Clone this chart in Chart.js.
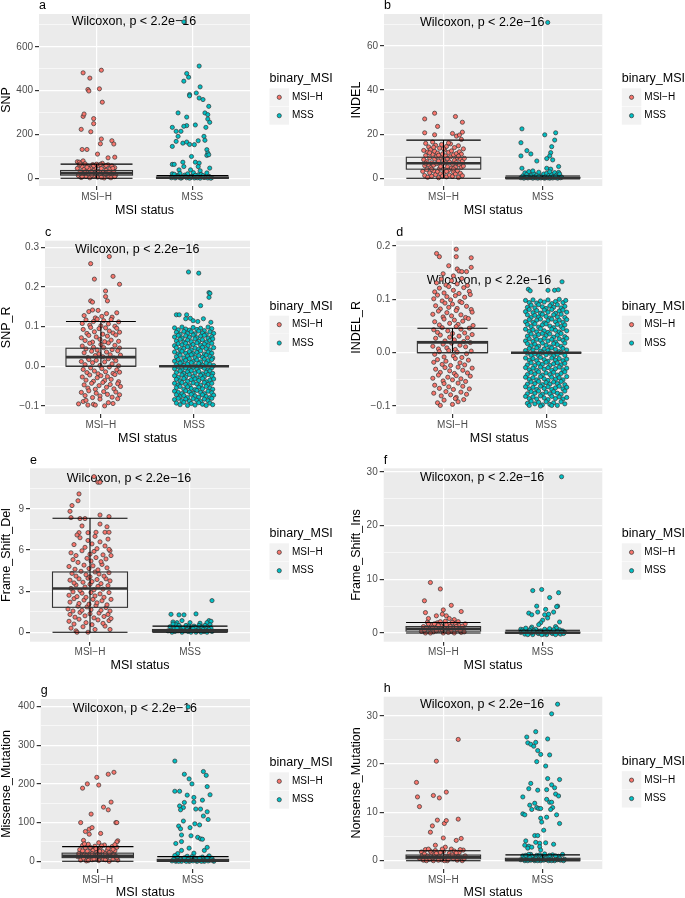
<!DOCTYPE html>
<html>
<head>
<meta charset="utf-8">
<title>MSI status comparison</title>
<script src="https://cdn.jsdelivr.net/npm/chart.js@4.4.1/dist/chart.umd.min.js"></script>
<style>
  body { margin: 0; background: #fff; width: 685px; height: 898px; overflow: hidden; position: relative; }
  canvas { position: absolute; }
</style>
</head>
<body>
<script>
Chart.defaults.font.family = '"Liberation Sans", Arial, sans-serif';
Chart.defaults.animation = false;

const categories = ['MSI−H', 'MSS'];
const legendTitle = 'binary_MSI';
const xTitle = 'MSI status';
const testLabel = 'Wilcoxon, p < 2.2e−16';
const fills = ['#F8766D', '#00BFC4'];

// samples as [x with jitter, value]
const snpMSIH = [[0.86,481],[1.05,493],[0.93,457],[0.91,405],[0.92,398],[1.03,408],[1.06,347],[0.86,282],[0.87,293],[0.97,272],[0.97,249],[0.84,223],[0.94,212],[1.05,179],[1.04,157],[1.16,171],[1.18,156],[0.85,131],[0.90,131],[1.01,110],[1.12,93],[1.19,96],[0.80,75],[0.82,73],[0.86,79],
  [0.80,45],[0.81,12],[0.82,60],[0.83,30],[0.84,3],[0.85,52],[0.86,20],[0.87,40],[0.88,66],[0.89,8],[0.90,35],[0.91,55],[0.92,18],[0.93,2],[0.94,47],[0.95,27],[0.96,62],[0.97,10],[0.98,38],[0.99,50],[1.00,22],[1.01,5],[1.02,58],[1.03,32],[1.04,14],[1.05,44],[1.06,68],[1.07,26],[1.08,1],[1.09,53],[1.10,36],[1.11,16],[1.12,61],[1.13,6],[1.14,42],[1.15,24],[1.16,56],[1.17,9],[1.18,33],[1.19,48],[1.20,15],[0.83,65],[0.88,25],[0.92,43],[0.97,57],[1.01,30],[1.04,63],[1.09,20],[1.13,28],[1.17,45],[0.85,7],[0.95,14],[1.05,4],[1.15,2],[0.90,50],[1.00,64],[1.10,58],[1.19,7]];
const snpMSS = [[1.91,714],[2.07,512],[1.94,478],[1.96,461],[1.91,443],[2.08,417],[1.97,382],[1.97,376],[2.04,389],[2.07,366],[2.11,359],[2.17,328],[1.85,298],[2.13,298],[2.16,290],[2.16,270],[2.18,255],[2.14,232],[1.94,279],[2.03,243],[1.94,240],[1.91,237],[1.79,232],[1.83,214],[1.88,214],[1.85,191],[2.12,191],[2.13,173],[1.83,168],[1.79,145],[1.90,160],[1.94,165],[1.97,154],[2.02,153],[2.06,171],[2.15,130],[2.16,115],[2.15,104],[2.17,107],[1.99,99],[1.79,63],[1.81,63],[1.90,73],[1.91,53],[2.03,73],[2.07,69],[2.06,53],[1.86,38],[1.98,38],[2.08,34],[2.18,46],[1.79,20],
  [1.78,2],[1.80,8],[1.82,1],[1.84,12],[1.86,4],[1.88,0],[1.90,6],[1.92,14],[1.94,2],[1.96,9],[1.98,3],[2.00,11],[2.02,1],[2.04,5],[2.06,15],[2.08,0],[2.10,7],[2.12,3],[2.14,10],[2.16,1],[2.18,6],[2.20,2],[1.81,18],[1.87,22],[1.95,20],[2.01,25],[2.09,17],[2.15,24],[1.83,5],[1.93,8],[2.03,13],[2.13,4],[1.85,9],[1.89,3],[1.97,0],[2.05,2],[2.11,12],[2.17,8],[2.19,0],[1.99,6]];

const indelMSIH = [[0.81,26.9],[0.91,29.5],[0.94,23.5],[1.12,28],[1.19,25.4],[1.19,20.9],[0.81,20.6],[0.91,19.7],[1.09,20.3],[1.13,19.1],[1.16,19.6],[1.18,17.6],
  [0.79,3.1],[0.80,8.4],[0.80,12.6],[0.81,1.2],[0.81,5.7],[0.82,10.3],[0.82,15.8],[0.83,3.9],[0.83,7.5],[0.84,0.4],[0.84,11.9],[0.85,6.1],[0.85,14.2],[0.86,2.4],[0.86,9.2],[0.87,4.8],[0.87,13.0],[0.88,0.9],[0.88,7.0],[0.89,10.8],[0.89,16.4],[0.90,3.3],[0.90,5.9],[0.91,8.7],[0.91,12.2],[0.92,1.6],[0.92,14.9],[0.93,6.6],[0.93,9.9],[0.94,3.0],[0.94,11.4],[0.95,0.2],[0.95,7.8],[0.96,4.4],[0.96,13.6],[0.97,2.0],[0.97,9.5],[0.98,6.2],[0.98,15.3],[0.99,1.0],[0.99,11.0],[1.00,4.0],[1.00,8.0],[1.01,12.8],[1.01,2.7],[1.02,6.9],[1.02,10.1],[1.03,0.6],[1.03,14.4],[1.04,5.2],[1.04,8.9],[1.05,3.6],[1.05,11.7],[1.06,1.4],[1.06,7.3],[1.07,9.7],[1.07,15.6],[1.08,4.6],[1.08,12.4],[1.09,0.8],[1.09,6.4],[1.10,2.9],[1.10,10.6],[1.11,8.1],[1.11,13.9],[1.12,5.0],[1.12,1.9],[1.13,11.2],[1.13,7.1],[1.14,3.4],[1.14,9.3],[1.15,14.7],[1.15,0.3],[1.16,6.0],[1.16,12.0],[1.17,2.2],[1.17,8.6],[1.18,4.9],[1.18,10.9],[1.19,1.1],[1.19,7.7],[1.20,13.3],[1.20,5.5],[1.21,9.0],[0.82,6.8],[0.86,11.5],[0.90,14.0],[0.95,10.4],[1.00,13.4],[1.05,16.0],[1.10,4.2],[1.15,10.0],[0.88,4.1],[0.97,5.3],[1.03,3.1]];
const indelMSS = [[2.05,70.7],[1.79,22.4],[1.78,16.1],[1.84,12.5],[1.88,11.0],[1.78,10.1],[2.13,20.6],[2.02,19.7],[2.12,17.3],[2.09,14.3],[2.08,11.6],[2.07,10.1],[2.10,8.3],[2.04,8.9],[1.94,7.8],[2.16,5.3],[1.79,4.5],[2.04,4.5],[2.08,4.1],[2.16,2.6],
  [1.78,0.2],[1.80,1.1],[1.81,0.0],[1.82,2.4],[1.83,0.6],[1.84,1.8],[1.85,0.1],[1.86,3.0],[1.87,0.9],[1.88,0.3],[1.89,1.5],[1.90,0.0],[1.91,2.1],[1.92,0.7],[1.93,0.2],[1.94,1.3],[1.95,0.0],[1.96,2.7],[1.97,0.5],[1.98,0.1],[1.99,1.0],[2.00,0.3],[2.01,1.9],[2.02,0.0],[2.03,0.8],[2.04,2.2],[2.05,0.2],[2.06,1.2],[2.07,0.0],[2.08,0.6],[2.09,1.7],[2.10,0.1],[2.11,0.9],[2.12,2.5],[2.13,0.3],[2.14,1.4],[2.15,0.0],[2.16,0.7],[2.17,1.9],[2.18,0.2],[2.19,0.5],[1.84,0.4],[1.90,3.3],[1.96,0.8],[2.01,0.2],[2.07,2.9],[2.13,0.9]];

const snpRMSIH = [[1.09,0.277],[0.89,0.259],[1.13,0.227],[0.93,0.220],[1.20,0.207],[1.05,0.190],[1.05,0.176],[1.07,0.165],[0.89,0.165],[0.91,0.162],
  [0.82,0.128],[0.87,0.138],[0.91,0.142],[0.97,0.141],[1.01,0.126],[1.06,0.133],[1.12,0.124],[1.17,0.135],[0.94,0.122],
  [0.80,0.108],[0.84,0.117],[0.88,0.104],[0.92,0.113],[0.96,0.119],[1.00,0.102],[1.03,0.115],[1.08,0.107],[1.11,0.118],[1.15,0.101],[1.19,0.112],
  [0.81,0.093],[0.85,0.083],[0.89,0.098],[0.93,0.087],[0.98,0.095],[1.02,0.081],[1.05,0.097],[1.09,0.089],[1.13,0.084],[1.17,0.096],[1.20,0.086],
  [0.79,0.072],[0.83,0.065],[0.87,0.078],[0.91,0.061],[0.95,0.074],[0.99,0.068],[1.04,0.062],[1.07,0.076],[1.11,0.066],[1.16,0.079],[1.19,0.063],
  [0.80,0.051],[0.84,0.044],[0.88,0.058],[0.92,0.048],[0.96,0.041],[1.00,0.055],[1.03,0.047],[1.08,0.059],[1.12,0.042],[1.15,0.053],[1.20,0.046],
  [0.82,0.034],[0.86,0.022],[0.90,0.038],[0.94,0.027],[0.98,0.031],[1.02,0.024],[1.06,0.036],[1.10,0.029],[1.14,0.021],[1.18,0.039],[1.21,0.028],
  [0.79,0.012],[0.83,0.004],[0.87,0.017],[0.91,0.009],[0.95,0.015],[0.99,0.002],[1.04,0.011],[1.08,0.019],[1.12,0.006],[1.16,0.014],[1.19,0.001],
  [0.81,-0.008],[0.85,-0.016],[0.89,-0.004],[0.93,-0.012],[0.97,-0.019],[1.01,-0.006],[1.05,-0.014],[1.09,-0.002],[1.13,-0.018],[1.17,-0.009],[1.20,-0.015],
  [0.80,-0.027],[0.84,-0.035],[0.88,-0.022],[0.92,-0.038],[0.96,-0.029],[1.00,-0.024],[1.04,-0.036],[1.07,-0.026],[1.11,-0.033],[1.15,-0.021],[1.19,-0.039],
  [0.82,-0.047],[0.86,-0.055],[0.90,-0.043],[0.94,-0.058],[0.98,-0.049],[1.02,-0.041],[1.06,-0.053],[1.10,-0.046],[1.14,-0.057],[1.18,-0.044],[1.21,-0.051],
  [0.79,-0.066],[0.83,-0.074],[0.87,-0.062],[0.91,-0.079],[0.95,-0.068],[0.99,-0.075],[1.03,-0.064],[1.07,-0.071],[1.12,-0.078],[1.16,-0.065],[1.20,-0.072],
  [0.76,-0.095],[0.81,-0.089],[0.86,-0.098],[0.92,-0.096],[0.94,-0.098],[0.99,-0.083],[1.04,-0.100],[1.08,-0.092],[1.13,-0.094],[1.18,-0.082],[0.84,-0.086]];
const snpRMSS = [[1.94,0.238],[2.05,0.235],[2.16,0.186],[2.17,0.184],[2.16,0.174],[2.07,0.153],[1.81,0.130],[1.84,0.130],[1.92,0.130],[1.96,0.121],[1.91,0.120],[2.10,0.120],[2.18,0.111],[2.04,0.113],[1.99,0.115],
  [1.79,0.097],[1.83,0.092],[1.87,0.099],[1.91,0.094],[1.95,0.091],[1.99,0.098],[2.03,0.093],[2.07,0.096],[2.11,0.090],[2.15,0.099],[2.19,0.095],
  [1.81,0.086],[1.85,0.081],[1.89,0.088],[1.93,0.083],[1.97,0.087],[2.01,0.082],[2.05,0.089],[2.09,0.084],[2.13,0.080],[2.17,0.087],[2.21,0.083],
  [1.79,0.074],[1.83,0.078],[1.87,0.071],[1.91,0.077],[1.95,0.073],[1.99,0.079],[2.03,0.072],[2.07,0.076],[2.11,0.078],[2.15,0.071],[2.19,0.075],
  [1.81,0.064],[1.85,0.068],[1.89,0.061],[1.93,0.066],[1.97,0.062],[2.01,0.069],[2.05,0.063],[2.09,0.067],[2.13,0.061],[2.17,0.065],[2.20,0.069],
  [1.79,0.052],[1.83,0.057],[1.87,0.054],[1.91,0.058],[1.95,0.051],[1.99,0.055],[2.03,0.059],[2.07,0.053],[2.11,0.056],[2.15,0.052],[2.19,0.058],
  [1.81,0.047],[1.85,0.042],[1.89,0.045],[1.93,0.049],[1.97,0.041],[2.01,0.046],[2.05,0.043],[2.09,0.048],[2.13,0.044],[2.17,0.041],[2.21,0.047],
  [1.79,0.036],[1.83,0.031],[1.87,0.038],[1.91,0.033],[1.95,0.037],[1.99,0.032],[2.03,0.035],[2.07,0.039],[2.11,0.031],[2.15,0.036],[2.19,0.033],
  [1.81,0.024],[1.85,0.028],[1.89,0.021],[1.93,0.026],[1.97,0.029],[2.01,0.022],[2.05,0.027],[2.09,0.023],[2.13,0.028],[2.17,0.025],[2.20,0.021],
  [1.79,0.013],[1.83,0.017],[1.87,0.011],[1.91,0.015],[1.95,0.019],[1.99,0.012],[2.03,0.016],[2.07,0.011],[2.11,0.018],[2.15,0.014],[2.19,0.017],
  [1.81,0.004],[1.85,0.008],[1.89,0.002],[1.93,0.006],[1.97,0.009],[2.01,0.001],[2.05,0.007],[2.09,0.003],[2.13,0.008],[2.17,0.005],[2.21,0.002],
  [1.79,-0.006],[1.83,-0.002],[1.87,-0.009],[1.91,-0.004],[1.95,-0.008],[1.99,-0.003],[2.03,-0.007],[2.07,-0.001],[2.11,-0.005],[2.15,-0.009],[2.19,-0.004],
  [1.81,-0.016],[1.85,-0.012],[1.89,-0.018],[1.93,-0.014],[1.97,-0.011],[2.01,-0.017],[2.05,-0.013],[2.09,-0.019],[2.13,-0.015],[2.17,-0.012],[2.20,-0.018],
  [1.79,-0.024],[1.83,-0.028],[1.87,-0.022],[1.91,-0.027],[1.95,-0.021],[1.99,-0.026],[2.03,-0.029],[2.07,-0.023],[2.11,-0.027],[2.15,-0.021],[2.19,-0.025],
  [1.81,-0.033],[1.85,-0.037],[1.89,-0.031],[1.93,-0.038],[1.97,-0.034],[2.01,-0.032],[2.05,-0.036],[2.09,-0.031],[2.13,-0.039],[2.17,-0.035],[2.21,-0.032],
  [1.79,-0.043],[1.83,-0.047],[1.87,-0.041],[1.91,-0.046],[1.95,-0.049],[1.99,-0.042],[2.03,-0.045],[2.07,-0.048],[2.11,-0.041],[2.15,-0.046],[2.19,-0.043],
  [1.81,-0.054],[1.85,-0.051],[1.89,-0.058],[1.93,-0.052],[1.97,-0.056],[2.01,-0.059],[2.05,-0.053],[2.09,-0.057],[2.13,-0.051],[2.17,-0.055],[2.20,-0.058],
  [1.79,-0.063],[1.83,-0.066],[1.87,-0.069],[1.91,-0.062],[1.95,-0.065],[1.99,-0.068],[2.03,-0.061],[2.07,-0.066],[2.11,-0.069],[2.15,-0.063],[2.19,-0.067],
  [1.81,-0.072],[1.85,-0.077],[1.89,-0.074],[1.93,-0.079],[1.97,-0.071],[2.01,-0.075],[2.05,-0.078],[2.09,-0.072],[2.13,-0.076],[2.17,-0.079],[2.21,-0.073],
  [1.79,-0.084],[1.83,-0.081],[1.87,-0.087],[1.91,-0.083],[1.95,-0.088],[1.99,-0.082],[2.03,-0.086],[2.07,-0.089],[2.11,-0.083],[2.15,-0.087],[2.19,-0.081],
  [1.81,-0.093],[1.85,-0.097],[1.89,-0.091],[1.93,-0.099],[1.97,-0.094],[2.01,-0.098],[2.05,-0.092],[2.09,-0.096],[2.13,-0.099],[2.17,-0.093],[2.20,-0.097]];

const indelRMSIH = [[0.83,0.186],[0.86,0.180],[1.04,0.194],[1.04,0.180],[1.20,0.178],[1.20,0.160],[0.96,0.163],[1.05,0.157],[1.07,0.153],[1.10,0.152],[1.15,0.152],[0.90,0.148],[1.01,0.144],
  [0.83,0.131],[0.88,0.138],[0.93,0.127],[0.99,0.135],[1.05,0.129],[1.10,0.139],[1.16,0.126],
  [0.81,0.114],[0.86,0.121],[0.91,0.112],[0.96,0.124],[1.01,0.117],[1.07,0.111],[1.12,0.122],[1.18,0.115],
  [0.80,0.101],[0.84,0.108],[0.89,0.097],[0.94,0.105],[0.98,0.099],[1.03,0.107],[1.08,0.096],[1.13,0.104],[1.19,0.109],
  [0.82,0.088],[0.87,0.082],[0.92,0.093],[0.96,0.085],[1.00,0.091],[1.05,0.083],[1.10,0.094],[1.15,0.087],[1.20,0.081],
  [0.79,0.072],[0.85,0.078],[0.90,0.067],[0.94,0.075],[0.99,0.069],[1.04,0.079],[1.09,0.071],[1.14,0.066],[1.21,0.076],
  [0.81,0.058],[0.86,0.052],[0.91,0.063],[0.97,0.055],[1.02,0.061],[1.06,0.053],[1.11,0.059],[1.17,0.064],[1.22,0.051],
  [0.80,0.043],[0.84,0.038],[0.89,0.047],[0.95,0.041],[1.00,0.036],[1.04,0.049],[1.09,0.044],[1.13,0.037],[1.18,0.046],
  [0.82,0.027],[0.87,0.033],[0.92,0.022],[0.97,0.029],[1.02,0.024],[1.07,0.031],[1.12,0.021],[1.16,0.028],[1.21,0.034],
  [0.79,0.012],[0.85,0.007],[0.90,0.016],[0.94,0.009],[0.99,0.018],[1.03,0.006],[1.08,0.014],[1.14,0.011],[1.19,0.019],
  [0.81,-0.003],[0.86,0.002],[0.91,-0.008],[0.96,0.004],[1.01,-0.006],[1.05,0.001],[1.10,-0.009],[1.15,-0.002],[1.20,0.003],
  [0.80,-0.018],[0.84,-0.013],[0.89,-0.022],[0.93,-0.016],[0.98,-0.024],[1.03,-0.011],[1.08,-0.019],[1.13,-0.023],[1.17,-0.014],
  [0.82,-0.031],[0.87,-0.037],[0.92,-0.028],[0.97,-0.034],[1.02,-0.039],[1.06,-0.027],[1.11,-0.033],[1.16,-0.038],[1.21,-0.029],
  [0.79,-0.048],[0.85,-0.042],[0.90,-0.053],[0.95,-0.046],[1.00,-0.051],[1.04,-0.043],[1.09,-0.049],[1.14,-0.054],[1.19,-0.044],
  [0.81,-0.061],[0.86,-0.067],[0.91,-0.058],[0.96,-0.064],[1.01,-0.069],[1.06,-0.057],[1.11,-0.063],[1.18,-0.068],
  [0.80,-0.076],[0.88,-0.081],[0.93,-0.073],[0.98,-0.079],[1.04,-0.084],[1.09,-0.074],[1.15,-0.078],
  [0.84,-0.094],[0.91,-0.089],[1.00,-0.097],[1.06,-0.092],[1.12,-0.088],[0.87,-0.099],[1.03,-0.086]];
const indelRMSS = [[2.17,0.133],[2.02,0.117],[2.09,0.117],[2.13,0.118],[1.81,0.119],[1.83,0.116],
  [1.78,0.098],[1.82,0.094],[1.86,0.099],[1.90,0.093],[1.94,0.097],[1.98,0.095],[2.02,0.099],[2.06,0.092],[2.10,0.096],[2.14,0.100],[2.18,0.094],[2.21,0.098],
  [1.80,0.085],[1.84,0.089],[1.88,0.084],[1.92,0.090],[1.96,0.086],[2.00,0.083],[2.04,0.088],[2.08,0.085],[2.12,0.090],[2.16,0.084],[2.20,0.087],
  [1.78,0.077],[1.82,0.081],[1.86,0.075],[1.90,0.079],[1.94,0.074],[1.98,0.080],[2.02,0.076],[2.06,0.081],[2.10,0.074],[2.14,0.078],[2.18,0.080],[2.22,0.076],
  [1.80,0.071],[1.84,0.066],[1.88,0.070],[1.92,0.067],[1.96,0.072],[2.00,0.068],[2.04,0.065],[2.08,0.071],[2.12,0.067],[2.16,0.072],[2.20,0.066],
  [1.78,0.058],[1.82,0.062],[1.86,0.057],[1.90,0.061],[1.94,0.063],[1.98,0.056],[2.02,0.060],[2.06,0.063],[2.10,0.058],[2.14,0.061],[2.18,0.057],[2.22,0.062],
  [1.80,0.053],[1.84,0.049],[1.88,0.054],[1.92,0.048],[1.96,0.052],[2.00,0.054],[2.04,0.050],[2.08,0.047],[2.12,0.053],[2.16,0.049],[2.20,0.052],
  [1.78,0.044],[1.82,0.040],[1.86,0.043],[1.90,0.039],[1.94,0.045],[1.98,0.041],[2.02,0.038],[2.06,0.044],[2.10,0.042],[2.14,0.039],[2.18,0.045],[2.22,0.041],
  [1.80,0.031],[1.84,0.035],[1.88,0.030],[1.92,0.034],[1.96,0.036],[2.00,0.032],[2.04,0.035],[2.08,0.029],[2.12,0.033],[2.16,0.036],[2.20,0.030],
  [1.78,0.022],[1.82,0.026],[1.86,0.021],[1.90,0.025],[1.94,0.023],[1.98,0.027],[2.02,0.022],[2.06,0.025],[2.10,0.020],[2.14,0.026],[2.18,0.023],[2.22,0.027],
  [1.80,0.017],[1.84,0.013],[1.88,0.016],[1.92,0.012],[1.96,0.018],[2.00,0.014],[2.04,0.011],[2.08,0.017],[2.12,0.015],[2.16,0.012],[2.20,0.018],
  [1.78,0.004],[1.82,0.008],[1.86,0.005],[1.90,0.009],[1.94,0.003],[1.98,0.007],[2.02,0.004],[2.06,0.009],[2.10,0.006],[2.14,0.002],[2.18,0.008],[2.22,0.005],
  [1.80,-0.001],[1.84,-0.005],[1.88,-0.002],[1.92,-0.006],[1.96,0.000],[2.00,-0.004],[2.04,-0.001],[2.08,-0.006],[2.12,-0.003],[2.16,0.000],[2.20,-0.005],
  [1.78,-0.010],[1.82,-0.014],[1.86,-0.011],[1.90,-0.015],[1.94,-0.009],[1.98,-0.013],[2.02,-0.016],[2.06,-0.010],[2.10,-0.014],[2.14,-0.011],[2.18,-0.015],[2.22,-0.012],
  [1.80,-0.023],[1.84,-0.019],[1.88,-0.024],[1.92,-0.020],[1.96,-0.022],[2.00,-0.018],[2.04,-0.024],[2.08,-0.021],[2.12,-0.019],[2.16,-0.023],[2.20,-0.020],
  [1.78,-0.028],[1.82,-0.032],[1.86,-0.029],[1.90,-0.033],[1.94,-0.027],[1.98,-0.031],[2.02,-0.028],[2.06,-0.033],[2.10,-0.030],[2.14,-0.027],[2.18,-0.032],[2.22,-0.029],
  [1.80,-0.041],[1.84,-0.037],[1.88,-0.040],[1.92,-0.036],[1.96,-0.042],[2.00,-0.038],[2.04,-0.041],[2.08,-0.037],[2.12,-0.042],[2.16,-0.039],[2.20,-0.036],
  [1.78,-0.046],[1.82,-0.050],[1.86,-0.047],[1.90,-0.051],[1.94,-0.045],[1.98,-0.049],[2.02,-0.052],[2.06,-0.046],[2.10,-0.050],[2.14,-0.047],[2.18,-0.051],[2.22,-0.045],
  [1.80,-0.059],[1.84,-0.055],[1.88,-0.058],[1.92,-0.054],[1.96,-0.060],[2.00,-0.056],[2.04,-0.059],[2.08,-0.055],[2.12,-0.058],[2.16,-0.054],[2.20,-0.060],
  [1.78,-0.064],[1.82,-0.068],[1.86,-0.065],[1.90,-0.069],[1.94,-0.063],[1.98,-0.067],[2.02,-0.064],[2.06,-0.069],[2.10,-0.066],[2.14,-0.063],[2.18,-0.068],[2.22,-0.065],
  [1.80,-0.077],[1.84,-0.073],[1.88,-0.076],[1.92,-0.072],[1.96,-0.078],[2.00,-0.074],[2.04,-0.077],[2.08,-0.073],[2.12,-0.076],[2.16,-0.078],[2.20,-0.072],
  [1.78,-0.082],[1.82,-0.086],[1.86,-0.083],[1.90,-0.087],[1.94,-0.081],[1.98,-0.085],[2.02,-0.088],[2.06,-0.082],[2.10,-0.086],[2.14,-0.083],[2.18,-0.087],[2.22,-0.084],
  [1.80,-0.095],[1.84,-0.091],[1.88,-0.096],[1.92,-0.093],[1.96,-0.098],[2.00,-0.092],[2.04,-0.097],[2.08,-0.094],[2.12,-0.099],[2.16,-0.092],[2.20,-0.096],[1.82,-0.099],[1.94,-0.100],[2.06,-0.099]];

const fsDelMSIH = [[0.89,10.1],[0.88,9.6],[0.82,9.25],[0.80,8.83],[0.81,8.37],[0.90,8.3],[0.95,8.3],[1.10,8.56],[1.19,8.44],[1.10,7.9],[0.92,7.76],[1.17,7.7],[1.15,7.3],[1.19,7.3],[0.89,7.27],[0.98,7.27],[1.06,7.3],[1.04,11.36],[1.08,10.95],[1.10,10.95],
  [0.81,0.3],[0.86,0.1],[0.93,0.4],[1.05,0.2],[1.15,0.45],[0.98,0.0],[0.87,0.0],[1.20,0.2],
  [0.79,0.8],[0.84,0.6],[0.89,0.95],[0.96,0.7],[1.02,0.55],[1.08,0.9],[1.13,0.65],[1.19,0.85],
  [0.80,1.3],[0.85,1.1],[0.90,1.45],[0.95,1.2],[1.00,1.35],[1.04,1.05],[1.09,1.4],[1.14,1.15],[1.18,1.3],[1.21,1.0],
  [0.78,1.7],[0.83,1.55],[0.88,1.9],[0.92,1.6],[0.97,1.85],[1.01,1.65],[1.06,1.95],[1.11,1.6],[1.16,1.8],[1.20,1.55],
  [0.80,2.2],[0.84,2.45],[0.89,2.1],[0.94,2.35],[0.99,2.05],[1.03,2.4],[1.07,2.15],[1.12,2.3],[1.17,2.0],[1.21,2.4],
  [0.79,2.7],[0.83,2.95],[0.87,2.6],[0.92,2.85],[0.96,2.55],[1.01,2.9],[1.05,2.65],[1.10,2.8],[1.14,2.55],[1.19,2.9],
  [0.81,3.2],[0.86,3.45],[0.90,3.05],[0.95,3.3],[1.00,3.5],[1.04,3.1],[1.08,3.35],[1.13,3.15],[1.18,3.4],
  [0.80,3.8],[0.84,3.6],[0.89,3.9],[0.93,3.65],[0.98,3.95],[1.02,3.7],[1.07,3.85],[1.11,3.55],[1.16,3.9],[1.20,3.75],
  [0.82,4.3],[0.86,4.1],[0.91,4.45],[0.96,4.2],[1.00,4.05],[1.05,4.4],[1.09,4.25],[1.14,4.1],[1.19,4.35],
  [0.79,4.8],[0.85,4.6],[0.94,4.9],[0.99,4.65],[1.03,4.85],[1.08,4.55],[1.12,4.95],[1.17,4.7],
  [0.83,5.3],[0.88,5.1],[0.97,5.4],[1.01,5.2],[1.06,5.45],[1.11,5.15],[1.16,5.35],[1.21,5.6],
  [0.81,5.8],[0.86,5.6],[0.92,5.95],[1.00,5.7],[1.04,5.9],[1.13,5.65],[1.20,5.95],
  [0.84,6.4],[0.95,6.2],[1.02,6.45],[1.07,6.1],[1.15,6.3],[1.19,6.05],
  [0.90,6.9],[0.98,6.7],[1.05,7.0],[1.10,6.6],[1.18,6.8],[0.87,7.1]];
const fsDelMSS = [[1.81,1.31],[1.89,1.27],[1.94,1.27],[2.06,1.34],[2.22,2.31],[1.83,0.75],[1.92,0.85],[2.10,0.66],[2.19,0.85],[2.17,0.7],[2.21,0.8],[1.87,0.7],[2.00,0.7],
  [1.78,0.1],[1.80,0.4],[1.82,0.0],[1.84,0.25],[1.86,0.55],[1.88,0.1],[1.90,0.35],[1.92,0.0],[1.94,0.2],[1.96,0.5],[1.98,0.05],[2.00,0.3],[2.02,0.15],[2.04,0.45],[2.06,0.0],[2.08,0.25],[2.10,0.1],[2.12,0.4],[2.14,0.05],[2.16,0.3],[2.18,0.15],[2.20,0.55],[2.22,0.05],[1.81,0.15],[1.85,0.05],[1.89,0.5],[1.93,0.3],[1.97,0.2],[2.01,0.0],[2.05,0.35],[2.09,0.5],[2.13,0.2],[2.17,0.0],[2.21,0.3],[1.83,0.6],[1.91,0.15],[1.99,0.45],[2.07,0.1],[2.15,0.5],[1.87,0.3],[1.95,0.1],[2.03,0.25],[2.11,0.0],[2.19,0.2]];

const fsInsMSIH = [[0.87,9.4],[0.97,8.2],[0.81,6.0],[0.82,3.8],[0.85,2.7],[0.93,3.2],[1.00,4.3],[1.08,5.15],[1.18,4.0],[0.99,3.5],[1.03,3.2],[1.06,2.7],[1.11,2.5],
  [0.78,0.3],[0.80,1.2],[0.82,0.0],[0.84,2.0],[0.86,0.7],[0.88,1.5],[0.90,0.2],[0.92,1.0],[0.94,1.9],[0.96,0.5],[0.98,1.3],[1.00,0.0],[1.02,2.2],[1.04,0.8],[1.06,1.6],[1.08,0.3],[1.10,1.1],[1.12,1.8],[1.14,0.6],[1.16,1.4],[1.18,0.1],[1.20,0.9],[1.22,1.7],[0.81,0.5],[0.85,1.7],[0.89,1.1],[0.93,0.4],[0.97,2.1],[1.01,0.9],[1.05,0.1],[1.09,2.0],[1.13,1.2],[1.17,0.4],[1.21,0.2],[0.83,1.0],[0.91,1.7],[0.99,0.6],[1.07,1.2],[1.15,2.1],[0.87,0.0],[0.95,1.4],[1.03,1.5],[1.11,0.0],[1.19,1.3]];
const fsInsMSS = [[2.19,29.1],[1.90,7.9],[1.99,8.1],[2.07,6.6],[2.16,7.5],[1.94,5.0],[1.95,3.9],[1.86,3.7],[1.89,3.4],[2.03,4.4],[2.11,3.9],[2.15,5.0],[2.14,4.9],[2.05,2.8],[2.00,2.4],[2.02,3.4],[2.06,3.5],[2.17,2.05],[1.98,1.9],[1.96,1.55],[2.13,1.2],[1.89,1.1],[1.78,0.7],
  [1.78,0.1],[1.80,0.6],[1.82,-0.2],[1.84,0.3],[1.86,0.0],[1.88,0.8],[1.90,-0.3],[1.92,0.2],[1.94,0.5],[1.96,-0.1],[1.98,0.4],[2.00,0.0],[2.02,0.7],[2.04,-0.3],[2.06,0.2],[2.08,0.5],[2.10,-0.1],[2.12,0.3],[2.14,0.9],[2.16,0.0],[2.18,-0.2],[2.20,0.4],[2.22,0.1],[1.81,0.3],[1.85,-0.3],[1.89,0.1],[1.93,0.7],[1.97,0.2],[2.01,-0.2],[2.05,0.4],[2.09,0.0],[2.13,-0.3],[2.17,0.6],[2.21,-0.1],[1.83,0.9],[1.91,0.4],[1.99,-0.3],[2.07,0.8],[2.15,0.3],[1.87,0.5],[1.95,0.0],[2.03,0.1],[2.11,0.6],[2.19,0.2]];

const missMSIH = [[0.84,189],[0.89,200],[0.99,217],[1.01,197],[1.11,225],[1.17,230],[0.93,122],[1.14,153],[1.06,140],[1.11,133],[0.82,100],[1.19,100],[1.20,100],[0.87,77],[0.91,83],[0.94,87],[0.91,70],[1.03,72],[0.85,54],[1.01,48],[1.21,53],[1.20,50],
  [0.79,12],[0.81,30],[0.82,3],[0.83,22],[0.84,41],[0.85,8],[0.86,17],[0.87,35],[0.88,1],[0.89,26],[0.90,44],[0.91,10],[0.92,19],[0.93,33],[0.94,4],[0.95,28],[0.96,14],[0.97,39],[0.98,7],[0.99,23],[1.00,31],[1.01,2],[1.02,16],[1.03,37],[1.04,11],[1.05,25],[1.06,5],[1.07,42],[1.08,20],[1.09,9],[1.10,29],[1.11,34],[1.12,0],[1.13,15],[1.14,24],[1.15,38],[1.16,6],[1.17,18],[1.18,27],[1.19,13],[1.20,36],[1.21,3],[0.80,20],[0.84,27],[0.88,14],[0.92,36],[0.96,6],[1.00,18],[1.04,40],[1.08,4],[1.12,22],[1.16,31],[1.20,9],[0.86,45],[0.94,20],[1.02,26],[1.10,12],[1.18,43],[0.90,2],[0.98,33]];
const missMSS = [[1.95,399],[1.81,259],[2.11,232],[1.91,225],[2.14,222],[1.96,213],[1.99,200],[2.15,193],[1.81,181],[1.86,181],[1.94,171],[2.01,165],[2.18,172],[2.10,158],[1.91,152],[2.01,153],[1.86,143],[1.90,139],[1.87,133],[2.03,135],[2.08,135],[2.15,128],[2.11,117],[2.16,108],[1.90,104],[2.02,97],[1.97,87],[1.85,91],[1.87,84],[2.07,94],[1.88,68],[1.98,66],[2.05,62],[2.08,58],[2.10,57],[1.82,46],[1.88,51],[1.96,34],[1.88,28],[2.01,21],[2.12,28],[2.15,36],[1.84,20],
  [1.78,1],[1.80,6],[1.82,0],[1.84,10],[1.86,3],[1.88,0],[1.90,7],[1.92,2],[1.94,13],[1.96,0],[1.98,4],[2.00,1],[2.02,9],[2.04,0],[2.06,5],[2.08,2],[2.10,11],[2.12,0],[2.14,6],[2.16,1],[2.18,3],[2.20,8],[2.22,0],[1.81,15],[1.87,4],[1.93,0],[1.99,12],[2.05,1],[2.11,3],[2.17,14],[1.83,2],[1.91,9],[1.97,1],[2.03,4],[2.09,0],[2.15,9],[2.21,2],[1.85,0],[1.95,5],[2.07,8]];

const nonsMSIH = [[1.15,25.1],[0.93,20.6],[0.73,16.2],[0.74,13.2],[0.90,13.5],[0.96,13.0],[1.03,14.2],[0.76,11.2],[0.94,8.4],[1.01,7.7],[1.03,8.3],[1.15,8.6],[0.89,7.2],[0.87,5.9],[1.00,4.7],[1.18,4.6],[1.13,4.2],[0.92,3.2],[1.02,2.8],
  [0.76,0.5],[0.78,1.8],[0.80,0.1],[0.82,2.3],[0.84,1.0],[0.86,0.3],[0.88,1.6],[0.90,0.0],[0.92,2.1],[0.94,0.7],[0.96,1.3],[0.98,0.2],[1.00,1.9],[1.02,0.9],[1.04,0.0],[1.06,1.5],[1.08,2.4],[1.10,0.4],[1.12,1.2],[1.14,0.1],[1.16,1.7],[1.18,0.6],[1.20,2.2],[1.22,1.0],[0.79,1.1],[0.83,0.0],[0.87,2.0],[0.91,1.2],[0.95,0.1],[0.99,2.4],[1.03,0.5],[1.07,1.0],[1.11,2.0],[1.15,0.8],[1.19,0.0],[0.81,1.4],[0.89,0.6],[0.97,1.7],[1.05,0.3],[1.13,1.6],[1.21,0.4],[0.85,2.4],[0.93,1.5],[1.01,0.0],[1.09,1.2],[1.17,2.3]];
const nonsMSS = [[2.15,32.4],[2.09,30.4],[1.93,26.7],[1.84,25.6],[2.05,25.2],[1.85,24.4],[1.88,24.1],[1.91,23.7],[1.93,24.5],[1.95,22.8],[1.98,22.0],[2.07,21.9],[1.94,20.5],[2.03,19.6],[2.17,16.8],[1.88,16.0],[1.86,14.9],[2.05,17.0],[2.09,15.7],[2.12,15.1],[2.13,13.8],[2.16,13.4],[1.80,13.2],[1.95,14.6],[2.04,14.7],[2.04,12.7],[2.07,12.1],[2.09,12.1],[1.92,11.9],[1.87,11.5],[1.94,11.0],[1.96,10.8],[1.98,10.8],[1.89,10.6],[2.10,11.0],[2.08,10.6],[1.80,9.7],[1.82,9.5],[2.14,9.5],[1.98,8.8],[2.04,9.0],[2.17,7.7],[1.99,8.0],[2.01,6.3],[1.92,5.2],[1.95,5.2],[1.83,4.1],[1.93,3.8],[1.97,3.6],[2.03,3.7],[2.11,3.4],[1.82,3.2],[1.86,3.0],[1.85,2.6],[1.89,2.8],[1.97,2.9],[1.98,2.2],[1.88,1.3],
  [1.78,0.2],[1.80,1.0],[1.82,0.0],[1.84,0.5],[1.86,1.3],[1.88,0.1],[1.90,0.7],[1.92,0.0],[1.94,1.1],[1.96,0.3],[1.98,0.0],[2.00,0.8],[2.02,1.4],[2.04,0.2],[2.06,0.0],[2.08,0.6],[2.10,1.2],[2.12,0.0],[2.14,0.4],[2.16,0.9],[2.18,0.1],[2.20,1.3],[2.22,0.3],[1.81,0.4],[1.85,0.0],[1.89,0.9],[1.93,0.5],[1.97,1.2],[2.01,0.1],[2.05,0.7],[2.09,0.0],[2.13,1.0],[2.17,0.5],[2.21,0.0],[1.83,1.1],[1.91,0.2],[1.99,0.5],[2.07,1.1],[2.15,0.2],[1.87,0.6],[1.95,0.0],[2.03,0.4]];

// box stats per group: [lower whisker, Q1, median, Q3, upper whisker]
const snpBox = [[0, 14, 23, 35, 64], [0, 0, 2, 5, 12]];
const indelBox = [[0, 4.1, 6.8, 9.5, 17.3], [0, 0, 0, 0.4, 1]];
const snpRBox = [[0, 0, 0.023, 0.0455, 0.113], [0, 0, 0, 0, 0]];
const indelRBox = [[0, 0, 0.019, 0.021, 0.0458], [0, 0, 0, 0, 0]];
const fsDelBox = [[0, 1.82, 3.19, 4.40, 8.32], [0, 0.04, 0.12, 0.2, 0.45]];
const fsInsBox = [[0, 0.35, 0.8, 1.2, 1.95], [0, 0, 0.05, 0.15, 0.5]];
const missBox = [[0, 9.5, 14, 21, 38], [0, 0, 2, 5, 12]];
const nonsBox = [[0, 0.41, 0.76, 1.17, 2.07], [0, 0, 0.2, 0.5, 1.2]];

// y tick labels (major) and minor grid values
const snpTicks = [0, 200, 400, 600], snpMinor = [100, 300, 500, 700];
const indelTicks = [0, 20, 40, 60], indelMinor = [10, 30, 50, 70];
const snpRTicks = [-0.1, 0, 0.1, 0.2, 0.3], snpRMinor = [-0.05, 0.05, 0.15, 0.25];
const indelRTicks = [-0.1, 0, 0.1, 0.2], indelRMinor = [-0.05, 0.05, 0.15];
const fsDelTicks = [0, 3, 6, 9], fsDelMinor = [1.5, 4.5, 7.5, 10.5];
const fsInsTicks = [0, 10, 20, 30], fsInsMinor = [5, 15, 25];
const missTicks = [0, 100, 200, 300, 400], missMinor = [50, 150, 250, 350];
const nonsTicks = [0, 10, 20, 30], nonsMinor = [5, 15, 25];

const panels = [
  { tag: 'a', title: 'SNP', pts: [snpMSIH, snpMSS], box: snpBox, ticks: snpTicks, minor: snpMinor, range: [-35.7, 749.7], labelY: 714,
    at: [0, 0, 343, 225], area: [39, 14, 250, 186], xPad: 6.8, yPad: -1 },
  { tag: 'b', title: 'INDEL', pts: [indelMSIH, indelMSS], box: indelBox, ticks: indelTicks, minor: indelMinor, range: [-3.55, 74.55], labelY: 70.5,
    at: [343, 0, 342, 225], area: [384, 14, 602.3, 186], xPad: 6.8, yPad: 6.5 },
  { tag: 'c', title: 'SNP_R', pts: [snpRMSIH, snpRMSS], box: snpRBox, ticks: snpRTicks, minor: snpRMinor, range: [-0.1205, 0.317], labelY: 0.294, dec: 1,
    at: [0, 225, 343, 225], area: [45, 240.7, 250, 414], xPad: 4.2, yPad: -1 },
  { tag: 'd', title: 'INDEL_R', pts: [indelRMSIH, indelRMSS], box: indelRBox, ticks: indelRTicks, minor: indelRMinor, range: [-0.115, 0.210], labelY: 0.136, dec: 1,
    at: [343, 225, 342, 225], area: [396.3, 240.7, 602.3, 414], xPad: 4.2, yPad: 6.5 },
  { tag: 'e', title: 'Frame_Shift_Del', pts: [fsDelMSIH, fsDelMSS], box: fsDelBox, ticks: fsDelTicks, minor: fsDelMinor, range: [-0.69, 11.97], labelY: 11.19,
    at: [0, 450, 343, 225], area: [30, 468.3, 250, 641.7], xPad: 1.5, yPad: -1 },
  { tag: 'f', title: 'Frame_Shift_Ins', pts: [fsInsMSIH, fsInsMSS], box: fsInsBox, ticks: fsInsTicks, minor: fsInsMinor, range: [-1.62, 30.67], labelY: 29.0,
    at: [343, 450, 342, 225], area: [383.7, 468.3, 602.3, 641.7], xPad: 1.5, yPad: 6.5 },
  { tag: 'g', title: 'Missense_Mutation', pts: [missMSIH, missMSS], box: missBox, ticks: missTicks, minor: missMinor, range: [-19.9, 419.4], labelY: 395,
    at: [0, 675, 343, 223], area: [40.7, 699, 250, 869], xPad: -1.8, yPad: -1 },
  { tag: 'h', title: 'Nonsense_Mutation', pts: [nonsMSIH, nonsMSS], box: nonsBox, ticks: nonsTicks, minor: nonsMinor, range: [-1.72, 33.95], labelY: 32.4,
    at: [343, 675, 342, 223], area: [383.7, 696.7, 602.3, 869], xPad: -1.8, yPad: 6.5 }
];

const FONT = '"Liberation Sans", Arial, sans-serif';

function drawPanel(p) {
  const [fx, fy, fw, fh] = p.at;
  const [al, at, ar, ab] = p.area;
  const cv = document.createElement('canvas');
  cv.width = fw;
  cv.height = fh;
  cv.style.left = fx + 'px';
  cv.style.top = fy + 'px';
  document.body.appendChild(cv);

  const fmt = p.dec ? v => v.toFixed(p.dec).replace('-', '−') : v => String(v);

  const deco = {
    id: 'deco',
    beforeDraw(chart) {
      const a = chart.chartArea, ctx = chart.ctx;
      ctx.save();
      ctx.fillStyle = '#EBEBEB';
      ctx.fillRect(a.left, a.top, a.right - a.left, a.bottom - a.top);
      ctx.restore();
    },
    beforeDatasetsDraw(chart) {
      const ctx = chart.ctx;
      ctx.save();
      ctx.font = '12.5px ' + FONT;
      ctx.fillStyle = '#000';
      ctx.textAlign = 'center';
      ctx.textBaseline = 'middle';
      ctx.fillText(testLabel, chart.scales.x.getPixelForValue(1.39), chart.scales.y.getPixelForValue(p.labelY));
      ctx.restore();
    },
    afterDatasetsDraw(chart) {
      const ctx = chart.ctx, xs = chart.scales.x, ys = chart.scales.y;
      p.box.forEach((b, i) => {
        const c = xs.getPixelForValue(i + 1);
        const l = xs.getPixelForValue(i + 1 - 0.375);
        const r = xs.getPixelForValue(i + 1 + 0.375);
        const [lo, q1, md, q3, hi] = b.map(v => ys.getPixelForValue(v));
        ctx.save();
        // whisker bar with caps
        ctx.strokeStyle = '#000';
        ctx.lineWidth = 1.1;
        ctx.beginPath();
        ctx.moveTo(c, lo); ctx.lineTo(c, hi);
        ctx.moveTo(l, lo); ctx.lineTo(r, lo);
        ctx.moveTo(l, hi); ctx.lineTo(r, hi);
        ctx.stroke();
        // box and median
        ctx.strokeStyle = '#333333';
        ctx.strokeRect(l, q3, r - l, q1 - q3);
        ctx.lineWidth = 2.6;
        ctx.beginPath();
        ctx.moveTo(l, md); ctx.lineTo(r, md);
        ctx.stroke();
        ctx.restore();
      });
    },
    afterDraw(chart) {
      const a = chart.chartArea, ctx = chart.ctx;
      ctx.save();
      ctx.textAlign = 'left';
      ctx.textBaseline = 'middle';
      ctx.fillStyle = '#000';
      ctx.font = '12.5px ' + FONT;
      ctx.fillText(p.tag, a.left, a.top - 8);

      const lx = a.right + 19.5;
      const ly = (a.top + a.bottom) / 2 - 21;
      ctx.fillText(legendTitle, lx, ly);
      categories.forEach((name, i) => {
        const ky = ly + 9.3 + i * 18.4;
        ctx.fillStyle = '#F2F2F2';
        ctx.fillRect(lx, ky, 19.5, 18);
        ctx.beginPath();
        ctx.arc(lx + 9.75, ky + 9, 2.1, 0, Math.PI * 2);
        ctx.fillStyle = fills[i];
        ctx.fill();
        ctx.lineWidth = 0.7;
        ctx.strokeStyle = '#333333';
        ctx.stroke();
        ctx.fillStyle = '#000';
        ctx.font = '10px ' + FONT;
        ctx.fillText(name, lx + 22.5, ky + 9);
      });
      ctx.restore();
    }
  };

  new Chart(cv, {
    type: 'scatter',
    data: {
      datasets: p.pts.map((pts, g) => ({
        label: categories[g],
        data: pts.map(([x, y]) => ({ x, y })),
        pointRadius: 2.1,
        pointBorderWidth: 0.7,
        pointBorderColor: '#333333',
        pointBackgroundColor: fills[g]
      }))
    },
    options: {
      responsive: false,
      devicePixelRatio: 1,
      events: [],
      layout: { autoPadding: false, padding: { left: 0, top: at - fy, right: fx + fw - ar, bottom: 0 } },
      plugins: { legend: { display: false }, tooltip: { enabled: false } },
      scales: {
        x: {
          type: 'linear', min: 0.4, max: 2.6,
          afterBuildTicks: s => { s.ticks = [{ value: 1 }, { value: 2 }]; },
          afterFit: s => { s.height = fy + fh - ab; },
          ticks: { callback: v => categories[Math.round(v) - 1], font: { size: 10 }, color: '#4D4D4D', padding: 1, autoSkip: false, maxRotation: 0 },
          grid: { color: '#FFFFFF', lineWidth: 1.2, tickColor: '#333333', tickLength: 4 },
          border: { display: false },
          title: { display: true, text: xTitle, color: '#000', font: { size: 12.5 }, padding: { top: 0, bottom: p.xPad } }
        },
        y: {
          min: p.range[0], max: p.range[1],
          afterBuildTicks: s => {
            s.ticks = p.ticks.map(v => ({ value: v }))
              .concat(p.minor.map(v => ({ value: v, minor: true })))
              .sort((m, n) => m.value - n.value);
          },
          afterFit: s => { s.width = al - fx; },
          ticks: { callback: (v, i, t) => (t[i].minor ? '' : fmt(v)), font: { size: 10 }, color: '#4D4D4D', padding: 2, autoSkip: false },
          grid: {
            color: '#FFFFFF',
            lineWidth: c => (c.tick && c.tick.minor ? 0.6 : 1.2),
            tickColor: c => (c.tick && c.tick.minor ? 'rgba(0,0,0,0)' : '#333333'),
            tickLength: 4
          },
          border: { display: false },
          title: { display: true, text: p.title, color: '#000', font: { size: 12.5 }, padding: { top: p.yPad, bottom: 0 } }
        }
      }
    },
    plugins: [deco]
  });
}

panels.forEach(drawPanel);
</script>
</body>
</html>
